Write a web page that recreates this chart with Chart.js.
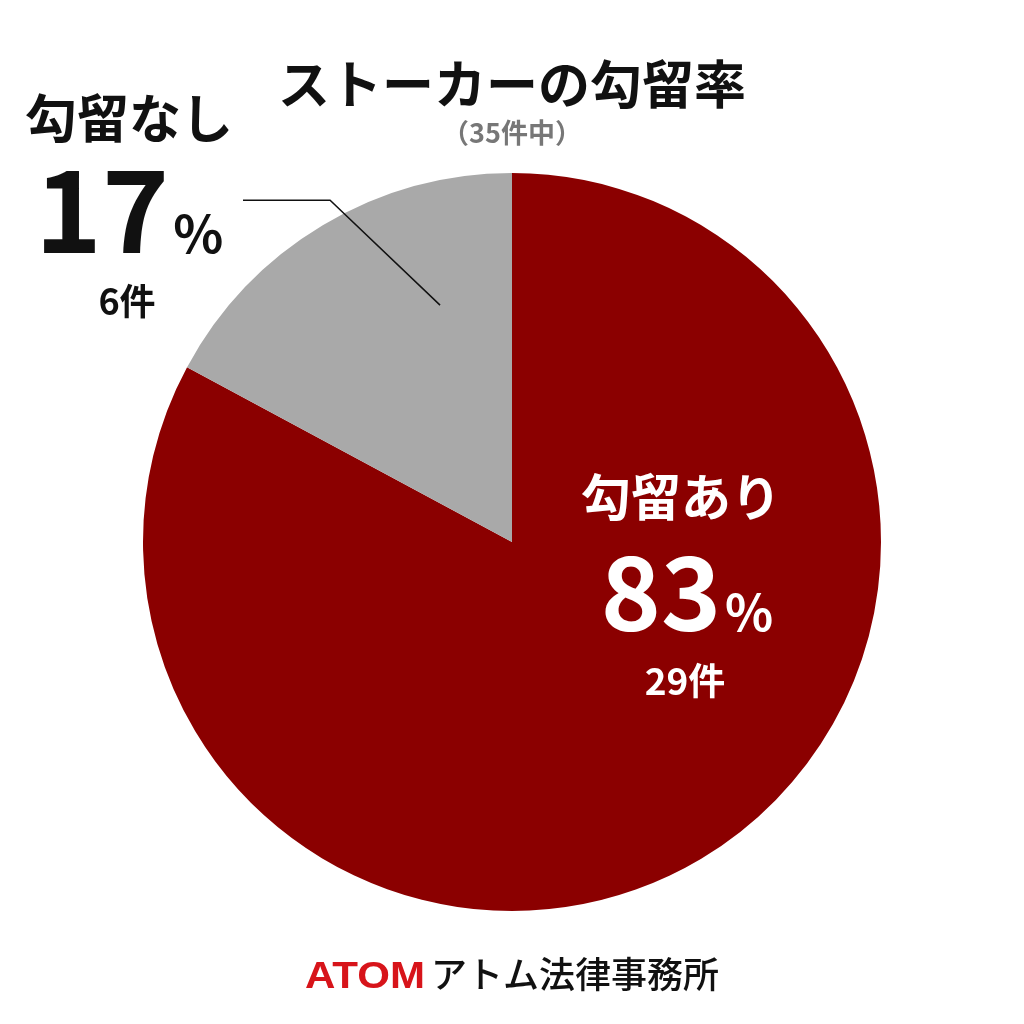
<!DOCTYPE html>
<html>
<head>
<meta charset="utf-8">
<script src="https://cdn.jsdelivr.net/npm/chart.js@4"></script>
<style>
  body { margin: 0; background: #fff; }
  canvas { display: block; }
</style>
</head>
<body>
<canvas id="chart" width="1024" height="1024"></canvas>
<script>
// data
const categories = ['勾留あり', '勾留なし'];
const counts = [29, 6];
const percents = [83, 17];
const colors = ['#8b0000', '#a9a9a9'];
const titleText = 'ストーカーの勾留率';
const subtitleText = '（35件中）';

const JP = '"Noto Sans CJK JP", "Noto Sans", sans-serif';

// draws a big number with a smaller % sign, centered on x
function drawPercent(ctx, x, y, num, numSize, pctSize, color) {
  ctx.save();
  ctx.fillStyle = color;
  ctx.textBaseline = 'alphabetic';
  ctx.font = 'bold ' + numSize + 'px ' + JP;
  const w1 = ctx.measureText(String(num)).width;
  ctx.font = 'bold ' + pctSize + 'px ' + JP;
  const w2 = ctx.measureText('%').width;
  const left = x - (w1 + w2 + 4) / 2;
  ctx.textAlign = 'left';
  ctx.font = 'bold ' + numSize + 'px ' + JP;
  ctx.fillText(String(num), left, y);
  ctx.font = 'bold ' + pctSize + 'px ' + JP;
  ctx.fillText('%', left + w1 + 4, y);
  ctx.restore();
}

const labelPlugin = {
  id: 'labels',
  afterDraw(chart) {
    const ctx = chart.ctx;
    const arcs = chart.getDatasetMeta(0).data;
    const cx = arcs[0].x, cy = arcs[0].y, r = arcs[0].outerRadius;

    ctx.save();
    ctx.textAlign = 'center';
    ctx.textBaseline = 'middle';

    // title
    ctx.fillStyle = '#111';
    ctx.font = 'bold 52px ' + JP;
    ctx.fillText(titleText, 512, 84);
    ctx.fillStyle = '#777';
    ctx.font = 'bold 27px ' + JP;
    ctx.fillText(subtitleText, 512, 133);

    // red slice label
    ctx.fillStyle = '#fff';
    ctx.font = 'bold 50px ' + JP;
    ctx.fillText(categories[0], 681, 497);
    drawPercent(ctx, 687, 631, percents[0], 102, 50, '#fff');
    ctx.textAlign = 'center';
    ctx.textBaseline = 'middle';
    ctx.font = 'bold 37px ' + JP;
    ctx.fillText(counts[0] + '件', 685, 681);

    // grey slice label (outside, with leader line)
    ctx.fillStyle = '#111';
    ctx.font = 'bold 52px ' + JP;
    ctx.fillText(categories[1], 129, 118);
    drawPercent(ctx, 129, 253, percents[1], 114, 52, '#111');
    ctx.textAlign = 'center';
    ctx.textBaseline = 'middle';
    ctx.font = 'bold 36px ' + JP;
    ctx.fillText(counts[1] + '件', 127, 301);

    ctx.strokeStyle = '#111';
    ctx.lineWidth = 1.5;
    ctx.beginPath();
    ctx.moveTo(cx - r * 0.729, cy - r * 0.926);
    ctx.lineTo(cx - r * 0.493, cy - r * 0.926);
    ctx.lineTo(cx - r * 0.195, cy - r * 0.642);
    ctx.stroke();

    // footer
    ctx.textBaseline = 'alphabetic';
    ctx.textAlign = 'left';
    ctx.fillStyle = '#d7141a';
    ctx.font = 'bold 37px "Liberation Sans", Arial, sans-serif';
    const aw = ctx.measureText('ATOM').width;
    ctx.save();
    ctx.translate(305, 988);
    ctx.scale(120 / aw, 1);
    ctx.fillText('ATOM', 0, 0);
    ctx.restore();
    ctx.fillStyle = '#111';
    ctx.font = '500 36px ' + JP;
    ctx.fillText('アトム法律事務所', 431, 988);
    ctx.restore();
  }
};

new Chart(document.getElementById('chart'), {
  type: 'pie',
  data: {
    labels: categories,
    datasets: [{
      data: counts,
      backgroundColor: colors,
      borderWidth: 0
    }]
  },
  options: {
    responsive: false,
    animation: false,
    layout: { padding: { top: 173, bottom: 113, left: 143, right: 143 } },
    plugins: {
      legend: { display: false },
      tooltip: { enabled: false }
    }
  },
  plugins: [labelPlugin]
});
</script>
</body>
</html>
